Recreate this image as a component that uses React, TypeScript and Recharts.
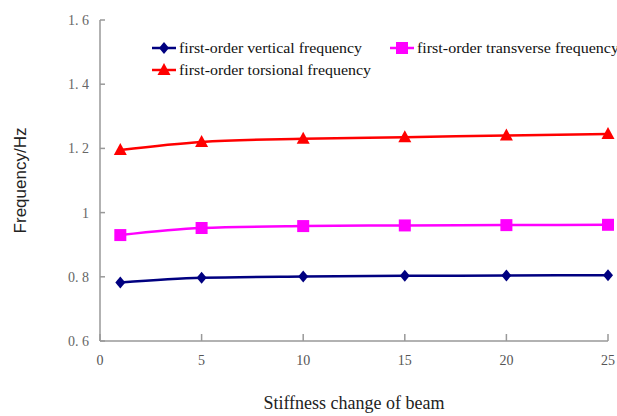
import React from 'react';
import { LineChart, Line, XAxis, YAxis, Label } from 'recharts';

const stiffness = [1, 5, 10, 15, 20, 25];
const verticalFreq = [0.782, 0.797, 0.801, 0.803, 0.804, 0.805];
const transverseFreq = [0.93, 0.952, 0.958, 0.96, 0.961, 0.962];
const torsionalFreq = [1.195, 1.22, 1.23, 1.235, 1.24, 1.245];
const xTicks = [0, 5, 10, 15, 20, 25];
const yTicks = [0.6, 0.8, 1, 1.2, 1.4, 1.6];

const data = stiffness.map((s, i) => ({
  s,
  vertical: verticalFreq[i],
  transverse: transverseFreq[i],
  torsional: torsionalFreq[i],
}));

const NAVY = '#000080';
const MAGENTA = '#ff00ff';
const RED = '#ff0000';
const SERIF = 'Liberation Serif, Times New Roman, serif';

const fmtY = (v: number) => (v === 1 ? '1' : v.toFixed(1).replace('.', '. '));

function XTick(props: any) {
  const { x, y, payload } = props;
  return (
    <text x={x} y={y} dy={10} textAnchor="middle" style={{ fontSize: 14, fill: '#555', fontFamily: SERIF }}>
      {payload.value}
    </text>
  );
}

function YTick(props: any) {
  const { x, y, payload } = props;
  return (
    <text x={x} y={y} dy={5} textAnchor="end" style={{ fontSize: 14, fill: '#666', fontFamily: SERIF }}>
      {fmtY(payload.value)}
    </text>
  );
}

function Marker({ kind, cx, cy, color }: { kind: string; cx: number; cy: number; color: string }) {
  if (kind === 'diamond') {
    return <polygon points={`${cx},${cy - 6} ${cx + 5},${cy} ${cx},${cy + 6} ${cx - 5},${cy}`} fill={color} />;
  }
  if (kind === 'square') {
    return <rect x={cx - 6} y={cy - 6} width={12} height={12} fill={color} />;
  }
  return <polygon points={`${cx},${cy - 7} ${cx + 6.5},${cy + 5} ${cx - 6.5},${cy + 5}`} fill={color} />;
}

const makeDot = (kind: string, color: string) => (props: any) => {
  const { cx, cy, index } = props;
  if (cx == null || cy == null) return <g key={index} />;
  return <Marker key={index} kind={kind} cx={cx} cy={cy} color={color} />;
};

const legendItems = [
  { name: 'first-order vertical frequency', kind: 'diamond', color: NAVY, x: 150, y: 48, len: 183 },
  { name: 'first-order transverse frequency', kind: 'square', color: MAGENTA, x: 388, y: 48, len: 202 },
  { name: 'first-order torsional frequency', kind: 'triangle', color: RED, x: 150, y: 70, len: 192 },
];

function LegendOverlay() {
  return (
    <svg width={617} height={416} style={{ position: 'absolute', left: 0, top: 0, pointerEvents: 'none' }}>
      {legendItems.map((it) => (
        <g key={it.name}>
          <line x1={it.x + 2} x2={it.x + 26} y1={it.y} y2={it.y} stroke={it.color} strokeWidth={2.5} />
          <Marker kind={it.kind} cx={it.x + 14} cy={it.y} color={it.color} />
          <text
            x={it.x + 29}
            y={it.y + 4.5}
            textLength={it.len}
            lengthAdjust="spacingAndGlyphs"
            style={{ fontSize: 14, fill: '#111', fontFamily: SERIF }}
          >
            {it.name}
          </text>
        </g>
      ))}
    </svg>
  );
}

export default function App() {
  return (
    <div style={{ position: 'absolute', left: 0, top: 0, width: 617, height: 416, background: '#fff' }}>
      <LineChart width={617} height={416} data={data} margin={{ top: 20, right: 9, bottom: 45, left: 0 }}>
        <XAxis
          dataKey="s"
          type="number"
          domain={[0, 25]}
          ticks={xTicks}
          stroke="#999"
          strokeWidth={1.5}
          tickSize={-7}
          tickMargin={21}
          height={30}
          tick={<XTick />}
        >
          <Label
            value="Stiffness change of beam"
            position="bottom"
            offset={25}
            style={{ fontSize: 18, fill: '#222', fontFamily: SERIF }}
          />
        </XAxis>
        <YAxis
          type="number"
          domain={[0.6, 1.6]}
          ticks={yTicks}
          width={100}
          stroke="#999"
          strokeWidth={1.5}
          tickSize={-5}
          tickMargin={16}
          tick={<YTick />}
        >
          <Label
            value="Frequency/Hz"
            angle={-90}
            position="insideLeft"
            offset={20}
            style={{ fontSize: 17, fill: '#222', fontFamily: 'Liberation Sans, Arial, sans-serif', textAnchor: 'middle' }}
          />
        </YAxis>
        <Line dataKey="vertical" type="monotone" stroke={NAVY} strokeWidth={2.5} dot={makeDot('diamond', NAVY)} isAnimationActive={false} />
        <Line dataKey="transverse" type="monotone" stroke={MAGENTA} strokeWidth={2.5} dot={makeDot('square', MAGENTA)} isAnimationActive={false} />
        <Line dataKey="torsional" type="monotone" stroke={RED} strokeWidth={2.5} dot={makeDot('triangle', RED)} isAnimationActive={false} />
      </LineChart>
      <LegendOverlay />
    </div>
  );
}
